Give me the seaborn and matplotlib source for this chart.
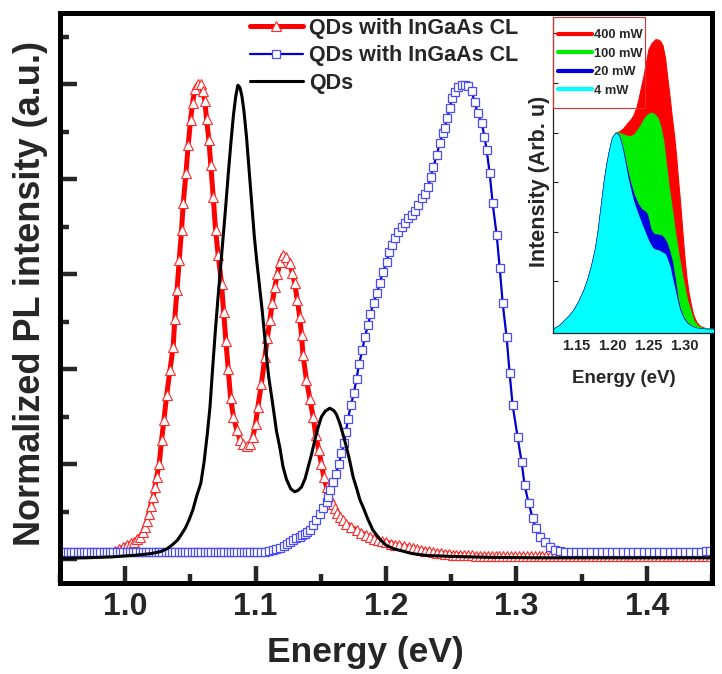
import matplotlib
matplotlib.use("Agg")
import matplotlib.pyplot as plt
from matplotlib import font_manager
from matplotlib.lines import Line2D
from matplotlib.patches import Rectangle
from matplotlib.ticker import MultipleLocator, FixedLocator, NullFormatter
import pandas as pd
import seaborn as sns

# ---- main panel data (energy in eV, normalized PL) ----
red_cl = [
    (0.992, 0.018), (0.995, 0.021), (0.998, 0.025), (1.001, 0.030), (1.0044, 0.034),
    (1.0067, 0.037), (1.009, 0.042), (1.0113, 0.047), (1.0136, 0.057), (1.015, 0.067),
    (1.0167, 0.080), (1.018, 0.095), (1.0195, 0.112), (1.0215, 0.131), (1.0228, 0.152),
    (1.0241, 0.173), (1.0261, 0.201), (1.0279, 0.251), (1.0297, 0.293), (1.0318, 0.345),
    (1.0343, 0.398), (1.0368, 0.447), (1.038, 0.505), (1.0397, 0.566), (1.0415, 0.630),
    (1.0432, 0.693), (1.0445, 0.749), (1.0466, 0.813), (1.0483, 0.872), (1.0501, 0.924),
    (1.0517, 0.961), (1.0534, 0.989), (1.056, 1.001), (1.0578, 1.000), (1.0593, 0.986),
    (1.0611, 0.965), (1.0624, 0.926), (1.0642, 0.882), (1.0657, 0.829), (1.0675, 0.763),
    (1.0693, 0.693), (1.0713, 0.640), (1.0739, 0.580), (1.0755, 0.520), (1.0772, 0.460),
    (1.079, 0.400), (1.0808, 0.340), (1.083, 0.300), (1.0856, 0.272), (1.088, 0.252),
    (1.0905, 0.242), (1.0933, 0.238), (1.0958, 0.243), (1.0979, 0.257), (1.100, 0.285),
    (1.1017, 0.320), (1.1045, 0.370), (1.1071, 0.425), (1.109, 0.465), (1.1109, 0.503),
    (1.1128, 0.540), (1.1147, 0.573), (1.1167, 0.600), (1.1186, 0.625), (1.1209, 0.640),
    (1.1235, 0.637), (1.1262, 0.623), (1.1281, 0.603), (1.130, 0.581), (1.132, 0.545),
    (1.1339, 0.509), (1.1352, 0.472), (1.1364, 0.429), (1.139, 0.377), (1.1416, 0.338),
    (1.1441, 0.300), (1.1462, 0.261), (1.1485, 0.229), (1.1505, 0.201), (1.1523, 0.173),
    (1.1544, 0.152), (1.1569, 0.128), (1.159, 0.117), (1.1607, 0.107), (1.1627, 0.098),
    (1.1646, 0.089), (1.167, 0.082), (1.1697, 0.075), (1.173, 0.068), (1.1774, 0.061),
    (1.181, 0.056), (1.1845, 0.051), (1.1875, 0.047), (1.191, 0.043), (1.194, 0.040),
    (1.197, 0.038), (1.2003, 0.036), (1.2035, 0.033), (1.207, 0.031), (1.210, 0.029),
    (1.214, 0.027), (1.2175, 0.025), (1.221, 0.023), (1.224, 0.021), (1.227, 0.019),
    (1.230, 0.018), (1.233, 0.017), (1.236, 0.015), (1.239, 0.014), (1.242, 0.013),
    (1.245, 0.012), (1.248, 0.011), (1.251, 0.010), (1.254, 0.010), (1.257, 0.009),
    (1.260, 0.008), (1.263, 0.008), (1.266, 0.008), (1.269, 0.007), (1.272, 0.007),
    (1.275, 0.007), (1.278, 0.007), (1.281, 0.006), (1.284, 0.006), (1.287, 0.006),
    (1.290, 0.006), (1.293, 0.006), (1.296, 0.006), (1.299, 0.006), (1.302, 0.006),
    (1.305, 0.006), (1.308, 0.006), (1.311, 0.006), (1.314, 0.006), (1.317, 0.006),
    (1.320, 0.006), (1.323, 0.006), (1.326, 0.006), (1.329, 0.006), (1.332, 0.006),
    (1.335, 0.006), (1.338, 0.006), (1.341, 0.006), (1.344, 0.006), (1.347, 0.006),
    (1.350, 0.006), (1.353, 0.006), (1.356, 0.006), (1.359, 0.006), (1.362, 0.006),
    (1.365, 0.006), (1.368, 0.006), (1.371, 0.006), (1.374, 0.006), (1.377, 0.006),
    (1.380, 0.006), (1.383, 0.006), (1.386, 0.006), (1.389, 0.006), (1.392, 0.006),
    (1.395, 0.006), (1.398, 0.006), (1.401, 0.006), (1.404, 0.006), (1.407, 0.006),
    (1.410, 0.006), (1.413, 0.006), (1.416, 0.006), (1.419, 0.006), (1.422, 0.006),
    (1.425, 0.006), (1.428, 0.006), (1.431, 0.006), (1.434, 0.006), (1.437, 0.006),
    (1.440, 0.006), (1.443, 0.006), (1.446, 0.006), (1.449, 0.006),
]

blue_cl = [
    (0.951, 0.015), (0.9535, 0.015), (0.956, 0.015), (0.9585, 0.015), (0.961, 0.015),
    (0.9635, 0.015), (0.966, 0.015), (0.9685, 0.015), (0.971, 0.015), (0.9735, 0.015),
    (0.976, 0.015), (0.9785, 0.015), (0.981, 0.015), (0.9835, 0.015), (0.986, 0.015),
    (0.9885, 0.015), (0.991, 0.015), (0.9935, 0.015), (0.996, 0.015), (0.9985, 0.015),
    (1.001, 0.015), (1.0035, 0.015), (1.006, 0.015), (1.0085, 0.015), (1.011, 0.015),
    (1.0135, 0.015), (1.016, 0.015), (1.0185, 0.015), (1.021, 0.015), (1.0235, 0.015),
    (1.026, 0.015), (1.0285, 0.015), (1.031, 0.015), (1.0335, 0.015), (1.036, 0.015),
    (1.0385, 0.015), (1.041, 0.015), (1.0435, 0.015), (1.046, 0.015), (1.0485, 0.015),
    (1.051, 0.015), (1.0535, 0.015), (1.056, 0.015), (1.0585, 0.015), (1.061, 0.015),
    (1.0635, 0.015), (1.066, 0.015), (1.0685, 0.015), (1.071, 0.015), (1.0735, 0.015),
    (1.076, 0.015), (1.0785, 0.015), (1.081, 0.015), (1.0835, 0.015), (1.086, 0.015),
    (1.0885, 0.015), (1.091, 0.015), (1.0935, 0.015), (1.096, 0.015), (1.0985, 0.015),
    (1.101, 0.015), (1.104, 0.016), (1.107, 0.016), (1.110, 0.017), (1.113, 0.019),
    (1.116, 0.021), (1.119, 0.024), (1.1215, 0.028), (1.1237, 0.033), (1.1262, 0.037),
    (1.1288, 0.040), (1.1313, 0.044), (1.1339, 0.047), (1.1358, 0.051), (1.1377, 0.054),
    (1.1397, 0.058), (1.1416, 0.061), (1.1441, 0.072), (1.1467, 0.082), (1.1492, 0.096),
    (1.1518, 0.107), (1.1544, 0.121), (1.1556, 0.131), (1.1569, 0.145), (1.159, 0.163),
    (1.1615, 0.180), (1.164, 0.201), (1.1658, 0.223), (1.1679, 0.244), (1.1692, 0.268),
    (1.1709, 0.296), (1.173, 0.324), (1.1753, 0.349), (1.1774, 0.380), (1.1794, 0.412),
    (1.1819, 0.440), (1.1837, 0.468), (1.1863, 0.493), (1.1881, 0.517), (1.1905, 0.540),
    (1.1929, 0.560), (1.1952, 0.581), (1.1975, 0.604), (1.2006, 0.625), (1.2021, 0.646),
    (1.2044, 0.661), (1.2067, 0.676), (1.209, 0.688), (1.2121, 0.699), (1.2144, 0.707),
    (1.2167, 0.718), (1.2197, 0.724), (1.222, 0.733), (1.2243, 0.745), (1.2274, 0.760),
    (1.2297, 0.768), (1.232, 0.783), (1.2343, 0.804), (1.2362, 0.825), (1.2389, 0.851),
    (1.2412, 0.876), (1.2435, 0.897), (1.245, 0.907), (1.2466, 0.928), (1.2489, 0.949),
    (1.2504, 0.971), (1.2527, 0.983), (1.255, 0.994), (1.258, 0.998), (1.2603, 0.998),
    (1.2626, 0.996), (1.2657, 0.985), (1.268, 0.962), (1.2703, 0.939), (1.2734, 0.918),
    (1.2755, 0.890), (1.2772, 0.861), (1.2795, 0.813), (1.2818, 0.749), (1.2849, 0.682),
    (1.2872, 0.613), (1.2895, 0.539), (1.2925, 0.467), (1.2948, 0.392), (1.2971, 0.324),
    (1.301, 0.257), (1.304, 0.204), (1.3063, 0.156), (1.3094, 0.118), (1.3125, 0.086),
    (1.3148, 0.065), (1.3178, 0.046), (1.3216, 0.036), (1.3255, 0.025), (1.3295, 0.019),
    (1.3335, 0.017), (1.3375, 0.016), (1.3415, 0.015), (1.3455, 0.015), (1.3495, 0.015),
    (1.3535, 0.015), (1.3575, 0.015), (1.3615, 0.015), (1.3655, 0.015), (1.3695, 0.015),
    (1.3735, 0.015), (1.3775, 0.015), (1.3815, 0.015), (1.3855, 0.015), (1.3895, 0.015),
    (1.3935, 0.015), (1.3975, 0.015), (1.4015, 0.015), (1.4055, 0.015), (1.4095, 0.015),
    (1.4135, 0.015), (1.4175, 0.015), (1.4215, 0.015), (1.4255, 0.015), (1.4295, 0.016),
    (1.4335, 0.016), (1.4375, 0.016), (1.4415, 0.016), (1.4455, 0.017), (1.4485, 0.018),
]

black_qd = [
    (0.950, 0.002), (0.970, 0.003), (0.990, 0.005), (1.000, 0.007), (1.010, 0.009),
    (1.020, 0.012), (1.027, 0.016), (1.032, 0.022), (1.036, 0.030), (1.040, 0.040),
    (1.043, 0.052), (1.046, 0.065), (1.049, 0.083), (1.052, 0.105), (1.055, 0.135),
    (1.058, 0.160), (1.0605, 0.205), (1.063, 0.265), (1.065, 0.320), (1.067, 0.400),
    (1.069, 0.476), (1.071, 0.545), (1.073, 0.610), (1.075, 0.675), (1.077, 0.740),
    (1.079, 0.810), (1.081, 0.875), (1.083, 0.935), (1.0848, 0.975), (1.0864, 0.998),
    (1.088, 0.993), (1.0895, 0.975), (1.091, 0.945), (1.093, 0.890), (1.095, 0.820),
    (1.097, 0.750), (1.099, 0.680), (1.101, 0.625), (1.103, 0.575), (1.105, 0.525),
    (1.107, 0.468), (1.1084, 0.426), (1.110, 0.385), (1.1134, 0.321), (1.116, 0.270),
    (1.1186, 0.235), (1.121, 0.195), (1.1237, 0.168), (1.127, 0.148), (1.130, 0.142),
    (1.1325, 0.145), (1.1352, 0.152), (1.138, 0.170), (1.1403, 0.194), (1.143, 0.222),
    (1.1454, 0.251), (1.148, 0.278), (1.1505, 0.300), (1.1535, 0.312), (1.1569, 0.318),
    (1.160, 0.313), (1.162, 0.305), (1.1646, 0.286), (1.1671, 0.262), (1.1697, 0.236),
    (1.1722, 0.207), (1.1748, 0.173), (1.1774, 0.150), (1.180, 0.125), (1.1824, 0.110),
    (1.186, 0.085), (1.190, 0.061), (1.195, 0.043), (1.2003, 0.029), (1.206, 0.022),
    (1.2131, 0.017), (1.220, 0.012), (1.231, 0.008), (1.250, 0.006), (1.280, 0.004),
    (1.320, 0.003), (1.360, 0.003), (1.400, 0.003), (1.450, 0.003),
]

main_labels = ["QDs with InGaAs CL", "QDs with InGaAs CL", "QDs"]

# ---- inset data (energy in eV, intensity arb. units) ----
inset_400 = [
    (1.110, 0.04), (1.120, 0.06), (1.127, 0.12), (1.1335, 0.22), (1.140, 0.31),
    (1.147, 0.44), (1.154, 0.62), (1.161, 0.85), (1.166, 1.06), (1.171, 1.32),
    (1.176, 1.64), (1.180, 2.00), (1.184, 2.48), (1.1885, 3.02), (1.192, 3.35),
    (1.1955, 3.62), (1.200, 3.90), (1.205, 4.00), (1.209, 4.02), (1.215, 4.08),
    (1.221, 4.19), (1.2255, 4.26), (1.2294, 4.35), (1.2335, 4.50), (1.2363, 4.66),
    (1.2432, 5.12), (1.2502, 5.67), (1.2545, 5.80), (1.2598, 5.88), (1.2628, 5.88),
    (1.2665, 5.85), (1.270, 5.76), (1.2735, 5.50), (1.2765, 5.12),
    (1.280, 4.70), (1.283, 4.30), (1.286, 3.95), (1.289, 3.50), (1.2915, 3.05),
    (1.294, 2.65), (1.297, 2.10), (1.300, 1.55), (1.303, 1.10), (1.306, 0.78),
    (1.310, 0.48), (1.313, 0.31), (1.317, 0.18), (1.322, 0.10), (1.330, 0.055),
    (1.345, 0.04),
]
inset_100 = [
    (1.110, 0.04), (1.120, 0.06), (1.127, 0.12), (1.1335, 0.22), (1.140, 0.31),
    (1.147, 0.44), (1.154, 0.62), (1.161, 0.85), (1.166, 1.06), (1.171, 1.32),
    (1.176, 1.64), (1.180, 2.00), (1.184, 2.48), (1.1885, 3.02), (1.192, 3.35),
    (1.1955, 3.62), (1.200, 3.90), (1.205, 4.00), (1.209, 4.00), (1.2155, 3.96),
    (1.2225, 3.93), (1.2257, 3.93), (1.230, 3.96), (1.235, 4.05), (1.2395, 4.15),
    (1.2436, 4.26), (1.248, 4.35), (1.253, 4.40), (1.258, 4.38), (1.263, 4.30),
    (1.267, 4.12), (1.271, 3.83), (1.2745, 3.40), (1.278, 2.96), (1.283, 2.45),
    (1.2875, 1.97), (1.292, 1.55), (1.2967, 1.16), (1.304, 0.63), (1.3127, 0.22),
    (1.319, 0.10), (1.326, 0.06), (1.345, 0.04),
]
inset_20 = [
    (1.110, 0.04), (1.120, 0.06), (1.127, 0.12), (1.1335, 0.22), (1.140, 0.31),
    (1.147, 0.44), (1.154, 0.62), (1.161, 0.85), (1.166, 1.06), (1.171, 1.32),
    (1.176, 1.64), (1.180, 2.00), (1.184, 2.48), (1.1885, 3.02), (1.192, 3.35),
    (1.1955, 3.62), (1.200, 3.90), (1.205, 4.00), (1.209, 3.96), (1.212, 3.84),
    (1.2155, 3.63), (1.219, 3.38), (1.2225, 3.14), (1.2257, 2.96), (1.230, 2.75),
    (1.2353, 2.57), (1.241, 2.45), (1.245, 2.42), (1.2486, 2.35), (1.2532, 2.05),
    (1.257, 1.97), (1.260, 1.95), (1.265, 1.94), (1.2692, 1.92), (1.273, 1.85),
    (1.276, 1.76), (1.2795, 1.60), (1.2829, 1.41), (1.2875, 1.00), (1.291, 0.65),
    (1.294, 0.45), (1.299, 0.27), (1.304, 0.17), (1.310, 0.10), (1.318, 0.06),
    (1.330, 0.045), (1.345, 0.04),
]
inset_4 = [
    (1.110, 0.04), (1.120, 0.06), (1.127, 0.12), (1.1335, 0.22), (1.140, 0.31),
    (1.147, 0.44), (1.154, 0.62), (1.161, 0.85), (1.166, 1.06), (1.171, 1.32),
    (1.176, 1.64), (1.180, 2.00), (1.184, 2.48), (1.1885, 3.02), (1.192, 3.35),
    (1.1955, 3.62), (1.200, 3.90), (1.205, 4.00), (1.209, 3.95), (1.212, 3.82),
    (1.2155, 3.60), (1.219, 3.33), (1.2225, 3.07), (1.2257, 2.87), (1.230, 2.62),
    (1.2353, 2.40), (1.241, 2.18), (1.246, 2.00), (1.251, 1.82), (1.256, 1.69),
    (1.260, 1.65), (1.264, 1.64), (1.269, 1.60), (1.2738, 1.56), (1.277, 1.45),
    (1.2807, 1.29), (1.284, 1.06), (1.2875, 0.84), (1.291, 0.60), (1.294, 0.43),
    (1.299, 0.26), (1.304, 0.16), (1.310, 0.10), (1.318, 0.06), (1.330, 0.045),
    (1.345, 0.04),
]
inset_series = [
    ("400 mW", inset_400, "#ff0000"),
    ("100 mW", inset_100, "#00ee00"),
    ("20 mW", inset_20, "#0000e0"),
    ("4 mW", inset_4, "#00ffff"),
]


def to_df(points):
    return pd.DataFrame(points, columns=["energy", "value"])


def has_font(name):
    try:
        font_manager.findfont(font_manager.FontProperties(family=name),
                              fallback_to_default=False)
        return True
    except ValueError:
        return False


sns.set_style("ticks")
plt.rcParams["font.family"] = ["Liberation Sans", "DejaVu Sans"]
plt.rcParams["font.weight"] = "bold"
plt.rcParams["axes.labelweight"] = "bold"

if has_font("Liberation Sans Narrow"):
    narrow = ["Liberation Sans Narrow", "Liberation Sans"]
    ylab_size, in_tick_size, in_lab_size, in_leg_size = 31.5, 12, 15, 10.5
else:
    narrow = ["Liberation Sans", "DejaVu Sans"]
    ylab_size, in_tick_size, in_lab_size, in_leg_size = 26, 10.5, 13.5, 9.3

W, H = 722, 674
fig = plt.figure(figsize=(W / 100, H / 100), dpi=100)
ax = fig.add_axes([60 / W, (H - 583) / H, 652 / W, 570 / H])

sns.lineplot(data=to_df(red_cl), x="energy", y="value", ax=ax, estimator=None, sort=False,
             color="#ff0000", lw=3.6, marker="^", markersize=7, markerfacecolor="white",
             markeredgecolor="#ff2a2a", markeredgewidth=0.8, label=main_labels[0])
sns.lineplot(data=to_df(blue_cl), x="energy", y="value", ax=ax, estimator=None, sort=False,
             color="#0000cc", lw=1.6, marker="s", markersize=5.5, markerfacecolor="white",
             markeredgecolor="#4a4aff", markeredgewidth=0.9, label=main_labels[1])
sns.lineplot(data=to_df(black_qd), x="energy", y="value", ax=ax, estimator=None, sort=False,
             color="black", lw=2.2, label=main_labels[2])

ax.set_xlim(0.95, 1.45)
ax.set_ylim(-0.05, 1.15)
ax.xaxis.set_major_locator(MultipleLocator(0.1))
ax.xaxis.set_minor_locator(MultipleLocator(0.05))
ax.yaxis.set_major_locator(FixedLocator([0.0, 0.2, 0.4, 0.6, 0.8, 1.0]))
ax.yaxis.set_minor_locator(FixedLocator([0.1, 0.3, 0.5, 0.7, 0.9, 1.1]))
ax.yaxis.set_major_formatter(NullFormatter())
ax.set_axisbelow(True)
ax.tick_params(which="major", direction="in", length=12, width=3.2, pad=6.5,
               labelsize=23, top=False, right=False)
ax.tick_params(which="minor", direction="in", length=6.5, width=3.2, top=False, right=False)
for lab in ax.get_xticklabels():
    lab.set_fontweight("bold")
for sp in ax.spines.values():
    sp.set_visible(True)
    sp.set_linewidth(3.6)
    sp.set_color("black")

ax.set_xlabel("Energy (eV)", fontsize=25.5, fontweight="bold", va="baseline")
ax.xaxis.set_label_coords((365 - 60) / 652, (583 - 662) / 570)
ax.set_ylabel("Normalized PL intensity (a.u.)", fontsize=ylab_size, fontweight="bold",
              family=narrow, va="baseline")
ax.yaxis.set_label_coords((40 - 60) / 652, (583 - 294) / 570)

handles, labels = ax.get_legend_handles_labels()
ax.legend(handles, labels, loc="upper left", bbox_to_anchor=(250 / W, 1 - 18 / H),
          bbox_transform=fig.transFigure, frameon=False, borderpad=0, borderaxespad=0,
          handlelength=2.45, handletextpad=0.3, labelspacing=0.3,
          prop={"weight": "bold", "size": 15.5})

# ---- inset ----
axi = fig.add_axes([553 / W, (H - 333) / H, 160 / W, 316 / H])
axi.patch.set_alpha(0)
for name, pts, col in inset_series:
    df = to_df(pts)
    if name == "4 mW":
        axi.fill_between(df["energy"], df["value"], -0.2, color=col, lw=0, zorder=3)
    else:
        axi.fill_between(df["energy"], df["value"], -0.2, facecolor=col, edgecolor=col,
                         lw=0.8, zorder=2)

axi.set_xlim(1.118, 1.340)
axi.set_ylim(-0.04, 6.33)
axi.xaxis.set_major_locator(FixedLocator([1.15, 1.20, 1.25, 1.30]))
axi.xaxis.set_minor_locator(FixedLocator([1.125, 1.175, 1.225, 1.275, 1.325]))
axi.yaxis.set_major_locator(FixedLocator([1, 2, 3, 4, 5, 6]))
axi.yaxis.set_major_formatter(NullFormatter())
axi.set_xticklabels(["1.15", "1.20", "1.25", "1.30"], family=narrow, fontsize=in_tick_size,
                    fontweight="bold")
axi.tick_params(which="both", direction="in", length=3.5, width=0.8, color="#222222",
                pad=4.5, top=False, right=False)
axi.spines["top"].set_visible(False)
axi.spines["right"].set_visible(False)
for s in ("left", "bottom"):
    axi.spines[s].set_linewidth(0.9)
    axi.spines[s].set_color("#222222")
    axi.spines[s].set_zorder(4)

axi.set_xlabel("Energy (eV)", family=narrow, fontsize=in_lab_size, fontweight="bold",
               va="baseline")
axi.xaxis.set_label_coords((624 - 553) / 160, (333 - 383) / 316)
axi.set_ylabel("Intensity (Arb. u)", fontsize=15.5, fontweight="bold", va="baseline")
axi.yaxis.set_label_coords((545 - 553) / 160, (333 - 181) / 316)

# inset legend: frameless entries plus a thin red box like the original
leg_handles = [Line2D([0], [0], color=col, lw=3) for _, _, col in inset_series]
leg = axi.legend(leg_handles, [n for n, _, _ in inset_series], loc="upper left",
                 bbox_to_anchor=(558 / W, 1 - 29 / H), bbox_transform=fig.transFigure,
                 borderaxespad=0, borderpad=0, frameon=False,
                 handlelength=2.65, handletextpad=0.15, labelspacing=0.5,
                 prop={"family": narrow, "weight": "bold", "size": in_leg_size})
leg.set_zorder(5)
box = Rectangle((553 / W, 1 - 108 / H), 92 / W, 91 / H, transform=fig.transFigure,
                fill=False, edgecolor="#dd3333", lw=0.8, zorder=6)
fig.add_artist(box)

fig.savefig("out.png", dpi=100)
